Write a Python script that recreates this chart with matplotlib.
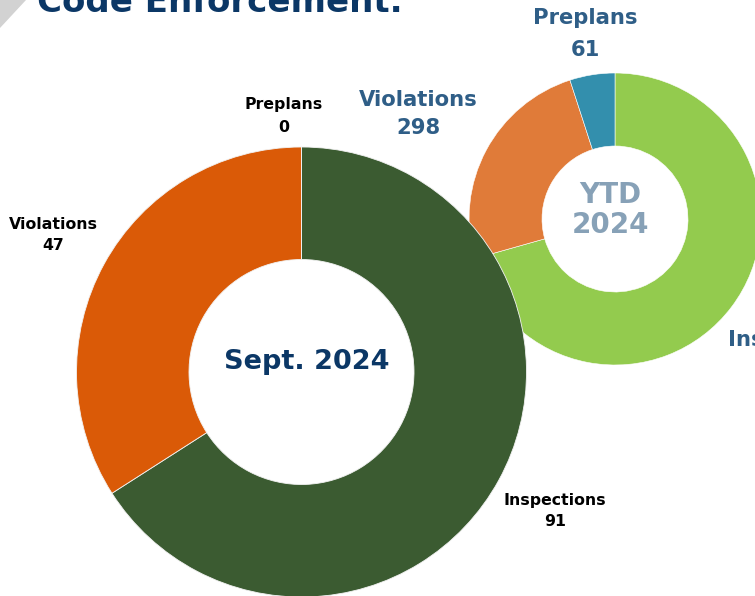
import matplotlib
matplotlib.use("Agg")
import matplotlib.pyplot as plt
from matplotlib.patches import Polygon

# ---- data ----
categories = ["Inspections", "Violations", "Preplans"]
sept_values = [91, 47, 0]
ytd_values = [863, 298, 61]
sept_title = "Sept. 2024"
ytd_title = "YTD\n2024"
page_title = "Code Enforcement."

sept_colors = ["#3B5B31", "#DA5A07", "#2E8BB0"]
ytd_colors = ["#93CB4E", "#E07B39", "#338FAD"]

W, H = 755, 596
fig = plt.figure(figsize=(W / 100, H / 100), dpi=100)
ax = fig.add_axes([0, 0, 1, 1])
ax.set_xlim(0, W)
ax.set_ylim(0, H)
ax.set_aspect("equal")
ax.axis("off")

# grey corner triangle
ax.add_patch(Polygon([(0, H), (26, H), (0, H - 28)], closed=True, color="#D2D2D2", lw=0))

# title (cut at the top)
ax.text(37, H - 12.5, page_title, fontsize=24.5, fontweight="bold", color="#0B3766",
        ha="left", va="baseline", family="DejaVu Sans")

# YTD donut (behind)
ytd_c, ytd_r = (615, H - 219), 146
ax.pie(ytd_values, colors=ytd_colors, startangle=90, counterclock=False,
       center=ytd_c, radius=ytd_r, frame=True,
       wedgeprops=dict(width=ytd_r * 0.5, edgecolor="white", linewidth=0.4))

# Sept donut (front)
sept_c, sept_r = (301.5, H - 372), 225
ax.pie(sept_values, colors=sept_colors, startangle=90, counterclock=False,
       center=sept_c, radius=sept_r, frame=True,
       wedgeprops=dict(width=sept_r * 0.5, edgecolor="#F2F2F2", linewidth=0.6))

ax.set_xlim(0, W)
ax.set_ylim(0, H)
ax.axis("off")

# centre titles
ax.text(sept_c[0] + 5, H - 362, sept_title, fontsize=19.5, fontweight="bold",
        color="#0B3766", ha="center", va="center")
ax.text(ytd_c[0] - 5, H - 210, ytd_title, fontsize=20, fontweight="bold",
        color="#87A1B7", ha="center", va="center", linespacing=1.05)

# Sept labels
sept_label_pos = [(555, H - 511), (53, H - 235), (284, H - 116)]
sept_spacing = [1.55, 1.55, 1.65]
for (x, y), ls, cat, val in zip(sept_label_pos, sept_spacing, categories, sept_values):
    ax.text(x, y, f"{cat}\n{val}", fontsize=11.3, fontweight="bold", color="#000000",
            ha="center", va="center", linespacing=ls)

# YTD labels
ytd_label_pos = [(796, H - 354), (418, H - 114), (585, H - 34)]
ytd_spacing = [1.45, 1.45, 1.7]
for (x, y), ls, cat, val in zip(ytd_label_pos, ytd_spacing, categories, ytd_values):
    ax.text(x, y, f"{cat}\n{val}", fontsize=15.2, fontweight="bold", color="#2F5E87",
            ha="center", va="center", linespacing=ls, clip_on=False)

fig.savefig("out.png", dpi=100)
